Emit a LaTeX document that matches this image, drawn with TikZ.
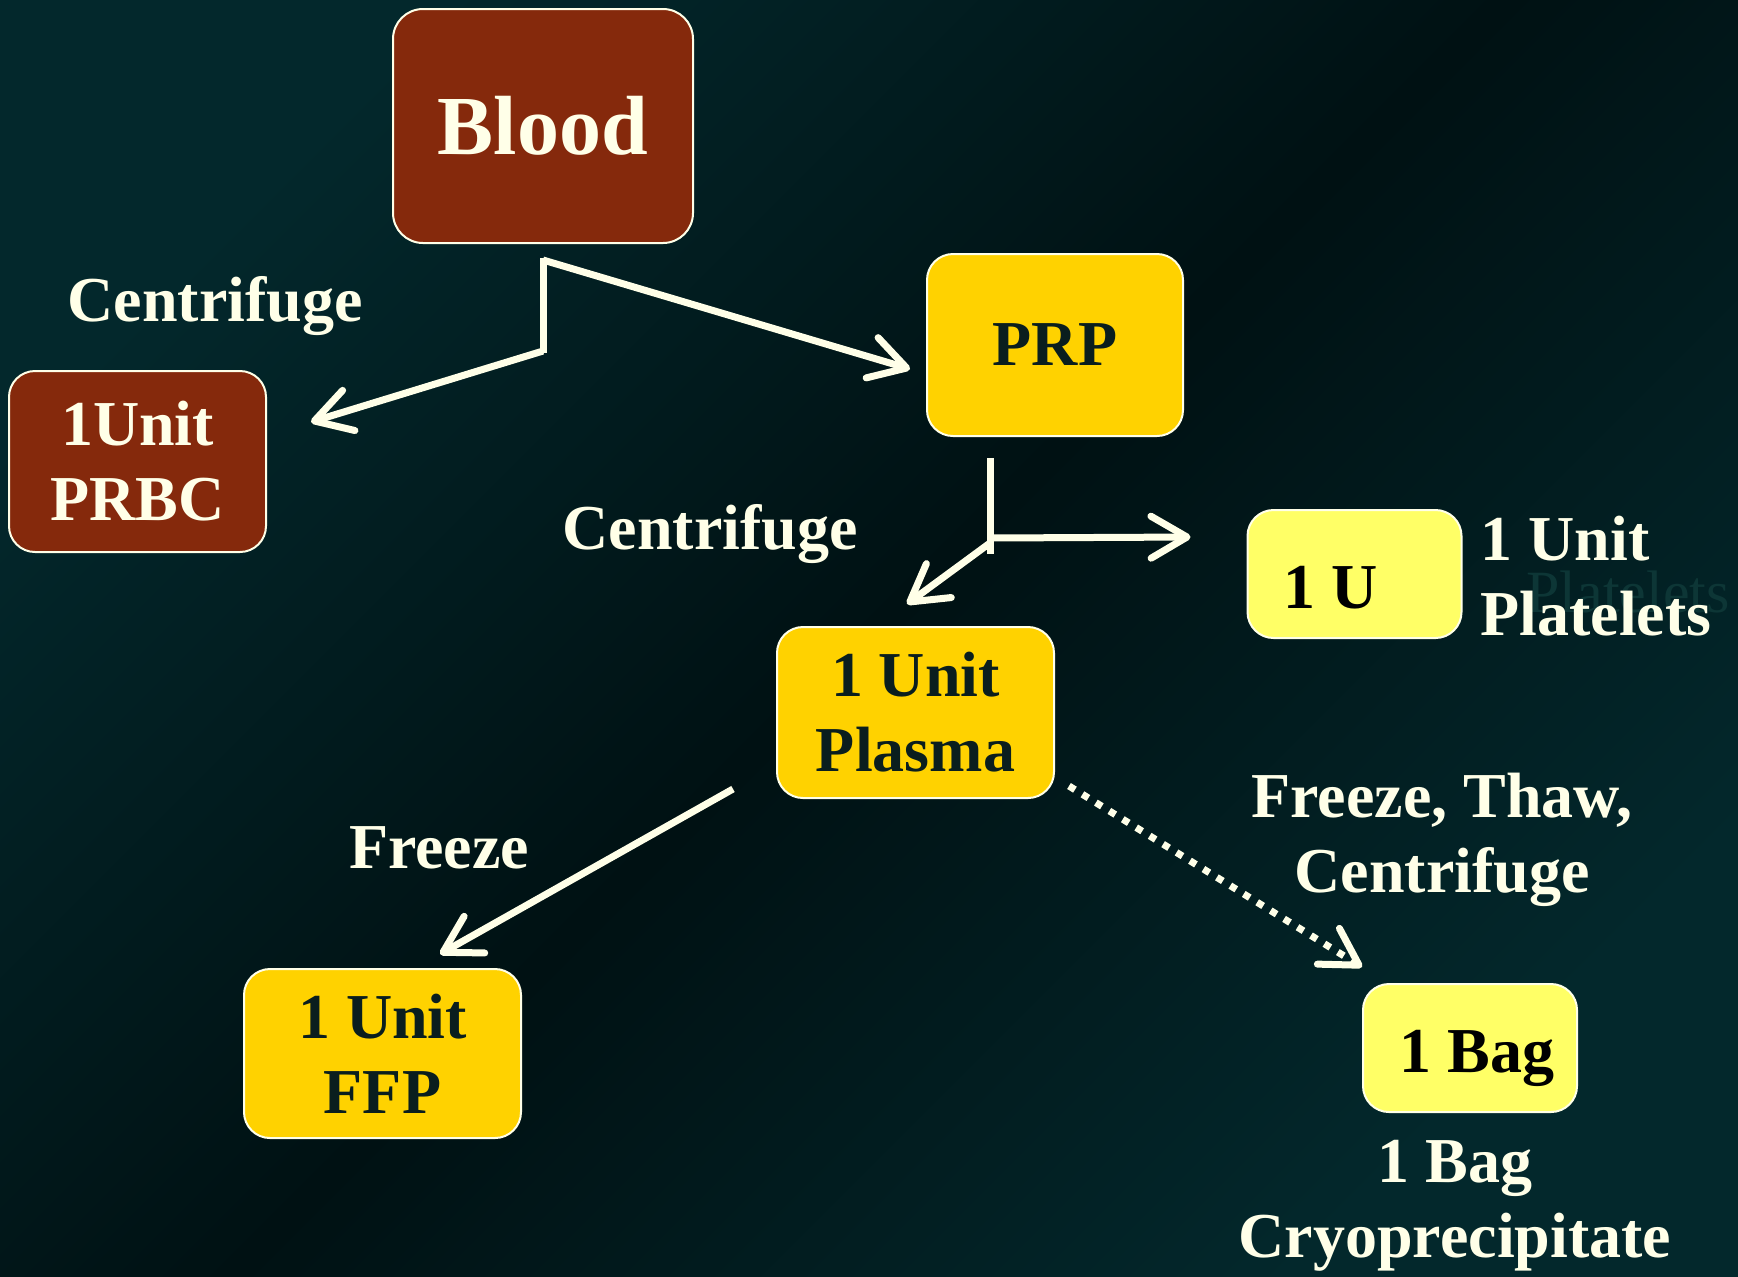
\documentclass[tikz,border=0pt]{standalone}
\usepackage{fontspec}
\setmainfont{Liberation Serif}
\usetikzlibrary{arrows.meta,calc}
\definecolor{ivory}{HTML}{FFFFE8}
\definecolor{brick}{HTML}{85290C}
\definecolor{gold}{HTML}{FFD200}
\definecolor{lemon}{HTML}{FFFF66}
\definecolor{ink}{HTML}{0A1E1E}
\definecolor{bgteal}{HTML}{03282C}
\definecolor{bgdark}{HTML}{001113}
\definecolor{ghost}{HTML}{0D3636}
\tikzset{
  box/.style={draw=ivory, line width=1pt, rounded corners=13pt, align=center,
    font=\bfseries\fontsize{32}{37.5}\selectfont},
  redbox/.style={box, fill=brick, text=ivory},
  goldbox/.style={box, fill=gold, text=ink},
  lemonbox/.style={box, fill=lemon, text=black},
  lbl/.style={text=ivory, inner sep=0pt, align=center,
    font=\bfseries\fontsize{32}{37.5}\selectfont},
  link/.style={draw=ivory, line width=3.5pt},
  arrow/.style={link, -{Straight Barb[length=18pt,width=21pt,round]}},
}
\begin{document}
\begin{tikzpicture}[x=0.5pt,y=-0.5pt]
  \useasboundingbox (0,0) rectangle (1738,1276);
  \fill[top color=bgteal, bottom color=bgteal, middle color=bgdark, shading angle=45]
    (0,0) rectangle (1738,1276);

  % boxes
  \node[redbox, rounded corners=15pt, minimum width=150pt, minimum height=117pt,
    font=\bfseries\fontsize{42}{48}\selectfont] (blood) at (543,126) {Blood};
  \node[redbox, minimum width=128.5pt, minimum height=90.5pt] (prbc) at (137.5,461.5) {1Unit\\PRBC};
  \node[goldbox, minimum width=128pt, minimum height=91pt] (prp) at (1055,345) {PRP};
  \node[goldbox, minimum width=138.5pt, minimum height=85.5pt] (plasma) at (915.5,712.5) {1 Unit\\Plasma};
  \node[goldbox, minimum width=138.5pt, minimum height=84.5pt] (ffp) at (382.5,1053.5) {1 Unit\\FFP};
  \node[lemonbox, minimum width=107pt, minimum height=64pt] (oneu) at (1354.5,574) {};
  \node[lbl, text=black, anchor=base] (oneutext) at (1331,608) {1 U};
  \node[lemonbox, minimum width=107pt, minimum height=64pt] (bag) at (1470,1048) {};
  \node[lbl, text=black, anchor=base] (bagtext) at (1477,1072) {1 Bag};

  % labels
  \node[text=ghost, anchor=base west, inner sep=0pt, font=\fontsize{30}{36}\selectfont] (ghost) at (1526,612) {Platelets};
  \node[lbl, anchor=base] (cent1) at (215,321) {Centrifuge};
  \node[lbl, anchor=base] (cent2) at (710,549) {Centrifuge};
  \node[lbl, anchor=base] (freeze) at (439,868) {Freeze};
  \node[lbl, anchor=north west, align=left] (platelets) at (1480,516) {1 Unit\\Platelets};
  \node[lbl, anchor=north] (thaw) at (1442,773) {Freeze, Thaw,\\Centrifuge};
  \node[lbl, anchor=north] (cryo) at (1455,1140) {1 Bag\\Cryoprecipitate};

  % blood -> prbc, prp
  \coordinate (bloodtop) at ($(blood.south)+(0,14)$);
  \coordinate (bloodknee) at ($(blood.south)+(0,109)$);
  \draw[link] (bloodtop) -- (bloodknee);
  \draw[arrow] ($(bloodtop)+(0,2)$) -- ($(prp.west)+(-16,24)$);
  \draw[arrow] ($(bloodknee)+(0,-2)$) -- ($(prbc.east)+(44,-39.5)$);

  % prp -> platelets, plasma
  \coordinate (prptop) at ($(prp.south)+(-65,21)$);
  \coordinate (prpknee) at ($(prp.south)+(-65,117)$);
  \draw[link] (prptop) -- (prpknee);
  \draw[arrow] ($(prptop)+(0,80)$) -- ($(oneu.west)+(-56,-37)$);
  \draw[arrow] ($(prptop)+(0,85)$) -- ($(plasma.north)+(-8.5,-22)$);

  % plasma -> ffp, cryo
  \draw[arrow] ($(plasma.south west)+(-43,-10)$) -- ($(ffp.north)+(57.5,-14)$);
  \draw[arrow, dash pattern=on 3.5pt off 4.4pt] ($(plasma.south east)+(14,-13)$) -- ($(bag.north west)+(0,-16)$);
\end{tikzpicture}
\end{document}
